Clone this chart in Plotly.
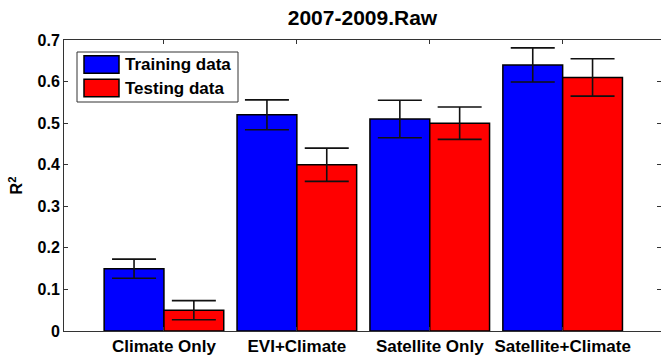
import plotly.graph_objects as go

categories = ["Climate Only", "EVI+Climate", "Satellite Only", "Satellite+Climate"]
train_vals = [0.15, 0.52, 0.51, 0.64]
train_err = [0.023, 0.036, 0.045, 0.041]
test_vals = [0.05, 0.40, 0.50, 0.61]
test_err = [0.023, 0.040, 0.039, 0.045]
series_names = ["Training data", "Testing data"]
series_colors = ["#0000FF", "#FF0000"]
ytick_vals = [0, 0.1, 0.2, 0.3, 0.4, 0.5, 0.6, 0.7]
ytick_text = ["0", "0.1", "0.2", "0.3", "0.4", "0.5", "0.6", "0.7"]

W, H = 661, 358
L, R, T, B = 64, 0, 40, 27
PW, PH = W - L - R, H - T - B

FONT = "Liberation Sans, Arial, sans-serif"
xs = [1, 2, 3, 4]

fig = go.Figure()
for vals, errs, name, col in [(train_vals, train_err, series_names[0], series_colors[0]),
                              (test_vals, test_err, series_names[1], series_colors[1])]:
    fig.add_trace(go.Bar(
        x=xs, y=vals, name=name,
        marker=dict(color=col, line=dict(color="black", width=1.5)),
        error_y=dict(type="data", array=errs, visible=True, color="#111111",
                     thickness=1.6, width=22),
        showlegend=False,
    ))

def px(xp, yp):
    return (xp - L) / PW, 1 - (yp - T) / PH

# manual legend (MATLAB style)
x0, y0 = px(77, 52)
x1, y1 = px(238, 102)
shapes = [dict(type="rect", xref="paper", yref="paper", x0=x0, y0=y1, x1=x1, y1=y0,
               line=dict(color="#333333", width=1), fillcolor="white", layer="above")]
annotations = []
sw = [(55.7, 73.3), (79.3, 96.7)]
for i in range(2):
    a0, b0 = px(84, sw[i][0])
    a1, b1 = px(119, sw[i][1])
    shapes.append(dict(type="rect", xref="paper", yref="paper", x0=a0, y0=b1, x1=a1, y1=b0,
                       line=dict(color="black", width=1.5), fillcolor=series_colors[i],
                       layer="above"))
    tx, ty = px(123, (sw[i][0] + sw[i][1]) / 2)
    annotations.append(dict(text="<b>%s</b>" % series_names[i], xref="paper", yref="paper",
                            x=tx, y=ty, xanchor="left", yanchor="middle", showarrow=False,
                            font=dict(family=FONT, size=17, color="black")))

fig.update_layout(
    width=W, height=H,
    margin=dict(l=L, r=R, t=T, b=B),
    paper_bgcolor="white", plot_bgcolor="white",
    barmode="group", bargap=0.1, bargroupgap=0,
    title=dict(text="<b>2007-2009.Raw</b>", x=(L + PW / 2) / W, xanchor="center",
               y=1 - 18 / H, yanchor="middle",
               font=dict(family=FONT, size=21, color="black")),
    font=dict(family=FONT, color="black"),
    shapes=shapes, annotations=annotations,
    xaxis=dict(range=[0.248, 4.74], tickvals=xs,
               ticktext=["<b>%s</b>" % c for c in categories],
               showline=True, linecolor="#333333", linewidth=1, mirror="ticks",
               ticks="inside", ticklen=4, tickcolor="#333333",
               showgrid=False, zeroline=False,
               tickfont=dict(family=FONT, size=17, color="black")),
    yaxis=dict(range=[0, 0.7], tickvals=ytick_vals,
               ticktext=["<b>%s</b>" % t for t in ytick_text],
               showline=True, linecolor="#333333", linewidth=1, mirror="ticks",
               ticks="inside", ticklen=4, tickcolor="#333333",
               showgrid=False, zeroline=False,
               title=dict(text="<b>R<sup>2</sup></b>", standoff=10,
                          font=dict(family=FONT, size=16, color="black")),
               tickfont=dict(family=FONT, size=16, color="black")),
)

fig.write_html("out.html")
